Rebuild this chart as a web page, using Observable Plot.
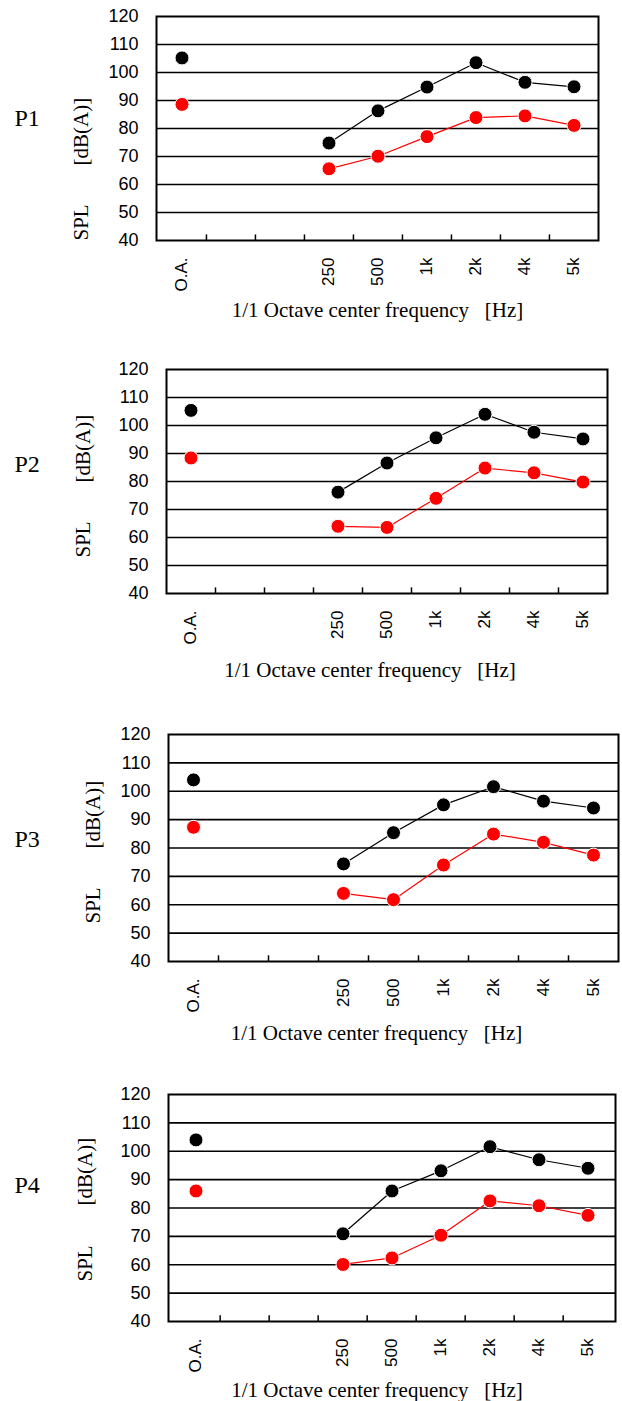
<!DOCTYPE html>
<html><head><meta charset="utf-8">
<script src="https://cdn.jsdelivr.net/npm/d3@7"></script>
<script src="https://cdn.jsdelivr.net/npm/@observablehq/plot@0.6"></script>
<style>
body{margin:0;background:#fff;}
#chart{position:relative;width:622px;height:1401px;overflow:hidden;background:#fff;}
#chart svg{position:absolute;left:0;}
</style></head><body><div id="chart"></div>
<script>
// x bands (two blank placeholder bands between O.A. and 250)
const bands = ["O.A.", "gap1", "gap2", "250", "500", "1k", "2k", "4k", "5k"];
const freqs = ["O.A.", "250", "500", "1k", "2k", "4k", "5k"];
const yTicks = [40, 50, 60, 70, 80, 90, 100, 110, 120];
const panelNames = ["P1", "P2", "P3", "P4"];

// SPL values [dB(A)] per frequency (O.A., 250, 500, 1k, 2k, 4k, 5k)
const p1Black = [105.2, 74.8, 86.3, 94.8, 103.5, 96.5, 94.9];
const p1Red   = [88.6, 65.6, 70.1, 77.1, 83.9, 84.5, 81.1];
const p2Black = [105.4, 76.2, 86.6, 95.6, 104.0, 97.6, 95.2];
const p2Red   = [88.4, 64.0, 63.6, 74.0, 84.8, 83.1, 79.8];
const p3Black = [104.0, 74.4, 85.4, 95.2, 101.6, 96.5, 94.1];
const p3Red   = [87.3, 64.0, 61.8, 74.0, 84.9, 82.0, 77.5];
const p4Black = [104.0, 70.9, 86.0, 93.1, 101.6, 97.0, 94.0];
const p4Red   = [86.0, 60.1, 62.4, 70.4, 82.5, 80.8, 77.4];

const blackSeries = [p1Black, p2Black, p3Black, p4Black];
const redSeries = [p1Red, p2Red, p3Red, p4Red];

const xTitle = "1/1 Octave center frequency\u00a0\u00a0\u00a0[Hz]";
const yTitleUnit = "[dB(A)]";
const yTitleName = "SPL";

// layout (frame rectangles in page pixels and text offsets)
const layout = [
  {L: 156, R: 598, T: 16,   B: 240,  pBase: 110, xBase: 77, xShift: 0,   yBaseX: 88,  splUp: 0,  dbUp: 75},
  {L: 166, R: 607, T: 369,  B: 593,  pBase: 103, xBase: 84, xShift: -17, yBaseX: 90,  splUp: 36, dbUp: 111},
  {L: 168, R: 618, T: 734,  B: 961,  pBase: 113, xBase: 79, xShift: -17, yBaseX: 100, splUp: 38, dbUp: 113},
  {L: 168, R: 615, T: 1094, B: 1321, pBase: 99,  xBase: 76, xShift: -15, yBaseX: 92,  splUp: 40, dbUp: 116}
];

const SANS = "'Liberation Sans', Arial, Helvetica, sans-serif";
const SERIF = "'Liberation Serif', 'Times New Roman', Times, serif";
const chart = document.getElementById("chart");

layout.forEach((lay, k) => {
  const mTop = 16, mBottom = 95;
  const width = 622;
  const height = (lay.B - lay.T) + mTop + mBottom;
  const bw = (lay.R - lay.L) / bands.length;
  const black = freqs.map((f, i) => ({f, v: blackSeries[k][i]}));
  const red = freqs.map((f, i) => ({f, v: redSeries[k][i]}));
  const svg = Plot.plot({
    width, height,
    marginTop: mTop, marginBottom: mBottom,
    marginLeft: lay.L, marginRight: width - lay.R,
    style: {fontFamily: SANS, background: "transparent", overflow: "visible", color: "#000"},
    x: {type: "band", domain: bands, padding: 0, axis: null},
    y: {domain: [40, 120], axis: null},
    marks: [
      Plot.gridY(yTicks.slice(1, -1), {stroke: "#000", strokeOpacity: 1, strokeWidth: 1.6}),
      Plot.frame({stroke: "#000", strokeWidth: 2}),
      Plot.ruleX(bands.slice(1), {x: d => d, y1: 40, y2: 42, dx: -bw / 2, stroke: "#000", strokeWidth: 1.5}),
      Plot.line(black.filter(d => d.f !== "O.A."), {x: "f", y: "v", stroke: "#000", strokeWidth: 1.2}),
      Plot.line(red.filter(d => d.f !== "O.A."), {x: "f", y: "v", stroke: "#ff0000", strokeWidth: 1.2}),
      Plot.dot(black, {x: "f", y: "v", r: 7, fill: "#000", stroke: "#fff", strokeWidth: 1}),
      Plot.dot(red, {x: "f", y: "v", r: 7, fill: "#ff0000", stroke: "#fff", strokeWidth: 1}),
      Plot.axisY(yTicks, {tickSize: 0, tickPadding: 18, fontSize: 18, label: null, fill: "#000"}),
      Plot.axisX({tickSize: 0, tickPadding: 17, tickRotate: -90, fontSize: 17, label: null, fill: "#000",
        tickFormat: d => d.startsWith("gap") ? "" : d}),
      Plot.text([panelNames[k]], {text: d => d, frameAnchor: "top-left", textAnchor: "start", lineAnchor: "middle",
        dx: 14 - lay.L, dy: lay.pBase - 8, fontFamily: SERIF, fontSize: 24, fill: "#000"}),
      Plot.text([xTitle], {text: d => d, frameAnchor: "bottom", lineAnchor: "middle", dx: lay.xShift, dy: lay.xBase - 7,
        fontFamily: SERIF, fontSize: 21, fill: "#000"}),
      Plot.text([yTitleName], {text: d => d, frameAnchor: "bottom-left", rotate: -90, textAnchor: "start", lineAnchor: "middle",
        dx: lay.yBaseX - 7 - lay.L, dy: -lay.splUp, fontFamily: SERIF, fontSize: 21, fill: "#000"}),
      Plot.text([yTitleUnit], {text: d => d, frameAnchor: "bottom-left", rotate: -90, textAnchor: "start", lineAnchor: "middle",
        dx: lay.yBaseX - 7 - lay.L, dy: -lay.dbUp, fontFamily: SERIF, fontSize: 21, fill: "#000"})
    ]
  });
  svg.style.top = (lay.T - mTop) + "px";
  chart.appendChild(svg);
});
</script></body></html>
